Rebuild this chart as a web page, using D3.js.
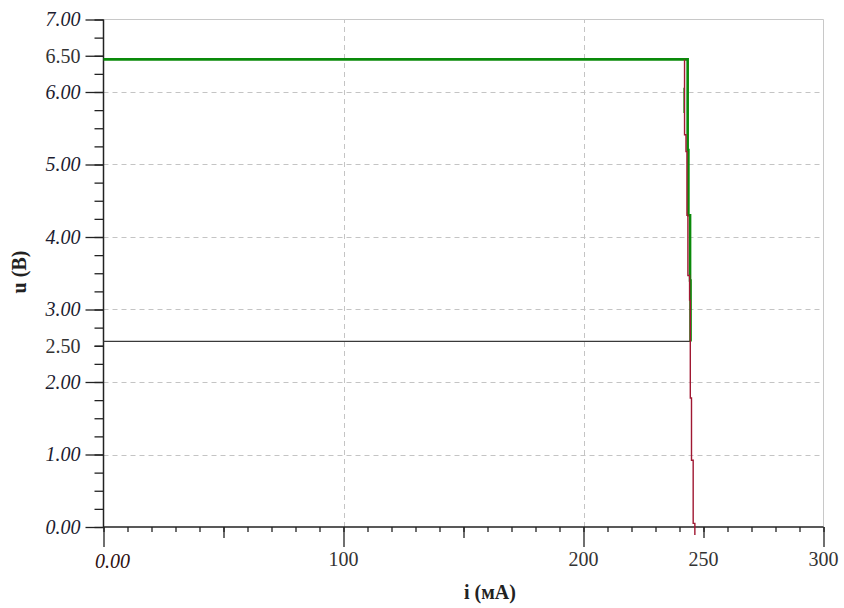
<!DOCTYPE html>
<html>
<head>
<meta charset="utf-8">
<script src="https://cdn.jsdelivr.net/npm/d3@7"></script>
<style>
  html, body { margin: 0; padding: 0; background: #fff; }
  svg { display: block; font-family: "Liberation Serif", "DejaVu Serif", serif; }
</style>
</head>
<body>
<svg id="chart" width="844" height="608"></svg>
<script>
// Axis ticks
const yMajorTicks = [0, 1, 2, 3, 4, 5, 6, 7];
const yLevelTicks = [2.5, 6.5];
const xLabelTicks = [0, 100, 200, 250, 300];
const xGridTicks = [100, 200];
const yGridTicks = [1, 2, 3, 4, 5, 6];

// Current i (mA) and voltage u (V) traces
const greenI = [0, 243.0, 243.4, 243.4, 243.7, 243.7, 244.4, 244.4, 244.6, 244.6];
const greenU = [6.45, 6.45, 6.45, 5.2, 5.2, 4.3, 4.3, 3.4, 3.4, 2.56];
const greenStubI = [241.8, 241.8];
const greenStubU = [6.06, 5.71];
const redI = [242.1, 242.1, 242.7, 242.7, 243.1, 243.1, 243.5, 243.5, 244.2, 244.2,
              244.5, 244.5, 245.0, 245.0, 245.7, 245.7, 246.4, 246.4];
const redU = [6.45, 5.41, 5.41, 5.18, 5.18, 4.3, 4.3, 3.47, 3.47, 3.13,
              3.13, 1.78, 1.78, 0.92, 0.92, 0.05, 0.05, -0.11];
const blackI = [0, 244.6];
const blackU = [2.56, 2.56];

const svg = d3.select("#chart");
const x = d3.scaleLinear().domain([0, 300]).range([103.5, 823.5]);
const y = d3.scaleLinear().domain([0, 7]).range([527, 19.5]);

// Grid
const grid = svg.append("g");
grid.selectAll(".gy").data(yGridTicks).join("line")
  .attr("x1", x(0)).attr("x2", x(300))
  .attr("y1", d => Math.round(y(d)) + 0.5).attr("y2", d => Math.round(y(d)) + 0.5)
  .attr("stroke", "#c4c4c4").attr("stroke-dasharray", "5,4");
grid.selectAll(".gx").data(xGridTicks).join("line")
  .attr("y1", y(0)).attr("y2", y(7))
  .attr("x1", d => Math.round(x(d)) + 0.5).attr("x2", d => Math.round(x(d)) + 0.5)
  .attr("stroke", "#c4c4c4").attr("stroke-dasharray", "5,4");
// Frame top and right
grid.append("line").attr("x1", x(0)).attr("x2", x(300))
  .attr("y1", y(7)).attr("y2", y(7)).attr("stroke", "#c8c8c8");
grid.append("line").attr("x1", x(300)).attr("x2", x(300))
  .attr("y1", y(0)).attr("y2", y(7)).attr("stroke", "#c8c8c8");

// Y axis
const yMinor = d3.range(0, 7.001, 0.25);
const gyMinor = svg.append("g").attr("transform", `translate(${x(0)},0)`)
  .call(d3.axisLeft(y).tickValues(yMinor).tickSize(9).tickFormat(""));
const gyMajor = svg.append("g").attr("transform", `translate(${x(0)},0)`)
  .call(d3.axisLeft(y).tickValues(yMajorTicks).tickSize(18).tickPadding(5)
    .tickFormat(d3.format(".2f")));
gyMajor.selectAll("text").attr("font-style", "italic").attr("fill", "#1c1c30");
const gyLevel = svg.append("g").attr("transform", `translate(${x(0)},0)`)
  .call(d3.axisLeft(y).tickValues(yLevelTicks).tickSize(9).tickPadding(14)
    .tickFormat(d3.format(".2f")));
gyLevel.selectAll(".tick").filter(d => d === 6.5).select("line").attr("x2", -18);
gyLevel.selectAll("text").attr("fill", "#333");

// X axis
const xMinor = d3.range(0, 300.001, 10);
const gxMinor = svg.append("g").attr("transform", `translate(0,${y(0)})`)
  .call(d3.axisBottom(x).tickValues(xMinor).tickSize(5).tickFormat(""));
const gxMid = svg.append("g").attr("transform", `translate(0,${y(0)})`)
  .call(d3.axisBottom(x).tickValues([50, 150, 250]).tickSize(11).tickFormat(""));
const gxMajor = svg.append("g").attr("transform", `translate(0,${y(0)})`)
  .call(d3.axisBottom(x).tickValues(xLabelTicks.filter(d => d !== 250)).tickSize(20).tickFormat(""));
const gxLabels = svg.append("g").attr("transform", `translate(0,${y(0)})`);
gxLabels.selectAll("text").data(xLabelTicks).join("text")
  .attr("x", d => x(d) + (d === 0 ? 9 : 0))
  .attr("y", d => d === 0 ? 41 : 39)
  .attr("text-anchor", "middle")
  .attr("font-size", 20)
  .attr("font-style", d => d === 0 ? "italic" : "normal")
  .attr("fill", d => d === 0 ? "#2e1010" : "#333")
  .text(d => d === 0 ? "0.00" : d3.format("d")(d));

[gyMinor, gyMajor, gyLevel, gxMinor, gxMid, gxMajor].forEach(g => {
  g.select(".domain").remove();
  g.selectAll("line").attr("stroke", "#222").attr("stroke-width", 1.3);
  g.selectAll("text").attr("font-size", 20).attr("font-family", "Liberation Serif, serif");
});
// Axis lines
svg.append("line").attr("x1", x(0)).attr("x2", x(0)).attr("y1", y(7)).attr("y2", y(0))
  .attr("stroke", "#222").attr("stroke-width", 1.5);
svg.append("line").attr("x1", x(0)).attr("x2", x(300)).attr("y1", y(0)).attr("y2", y(0))
  .attr("stroke", "#222").attr("stroke-width", 1.5);

// Traces
const line = d3.line().x(d => x(d[0])).y(d => y(d[1]));
const zip = (a, b) => a.map((v, k) => [v, b[k]]);
svg.append("path").datum(zip(blackI, blackU)).attr("d", line)
  .attr("fill", "none").attr("stroke", "#3a3a3a").attr("stroke-width", 1.3);
svg.append("path").datum(zip(greenI, greenU)).attr("d", line)
  .attr("fill", "none").attr("stroke", "#0a8a0a").attr("stroke-width", 2.6);
svg.append("path").datum(zip(greenStubI, greenStubU)).attr("d", line)
  .attr("fill", "none").attr("stroke", "#3aa83a").attr("stroke-width", 1.2);
svg.append("path").datum(zip(redI, redU)).attr("d", line)
  .attr("fill", "none").attr("stroke", "#a01832").attr("stroke-width", 1.4);

// Axis titles
svg.append("text").attr("x", 490).attr("y", 599).attr("text-anchor", "middle")
  .attr("font-size", 20).attr("font-weight", "bold").attr("fill", "#222")
  .text("i (мА)");
svg.append("text").attr("transform", "translate(26,272) rotate(-90)")
  .attr("text-anchor", "middle")
  .attr("font-size", 20).attr("font-weight", "bold").attr("fill", "#222")
  .text("u (B)");
</script>
</body>
</html>
